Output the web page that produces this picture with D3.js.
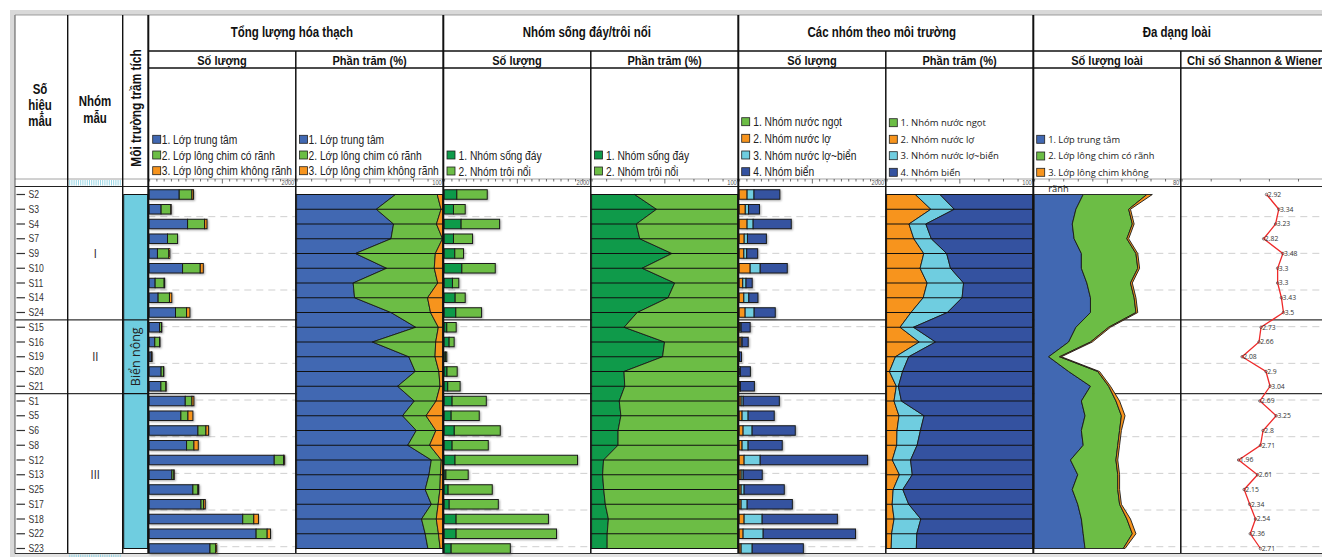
<!DOCTYPE html>
<html>
<head>
<meta charset="utf-8">
<script src="https://cdn.jsdelivr.net/npm/d3@7"></script>
<style>
  body { margin: 0; background: #fff; }
  svg { display: block; }
</style>
</head>
<body>
<svg id="chart" width="1322" height="557"></svg>
<script>
// ---- data ----
const samples = ["S2","S3","S4","S7","S9","S10","S11","S14","S24","S15","S16","S19","S20","S21",
                 "S1","S5","S6","S8","S12","S13","S25","S17","S18","S22","S23"];
const groupNames = ["I", "II", "III"];
const groupSizes = [9, 5, 11];
const environmentLabel = "Biển nông";

// Tổng lượng hóa thạch (số lượng)
const fossilCentral = [414,165,529,253,115,460,83,124,363,143,78,30,165,162,497,437,671,515,1720,313,602,713,1287,1471,837];
const fossilGrooved = [175,134,234,138,156,243,124,156,152,27,65,7,33,68,92,97,110,101,128,27,69,36,152,152,78];
const fossilSmooth  = [22,3,33,0,14,42,7,32,46,5,7,2,5,4,27,68,37,60,15,5,12,23,64,46,15];

// Nhóm sống đáy / trôi nổi (số lượng)
const benthic   = [175,129,234,129,147,244,115,152,161,37,69,18,40,50,110,97,140,110,150,25,55,70,165,165,97];
const planktic  = [418,161,529,262,120,459,87,138,354,129,69,19,140,170,470,386,632,497,1684,306,607,675,1269,1380,813];

// Các nhóm theo môi trường (số lượng)
const freshwater     = [0,0,0,0,0,0,0,0,0,0,0,0,0,0,0,0,0,0,0,0,0,0,0,0,0];
const brackish       = [110,85,110,70,65,152,50,65,83,14,28,2,3,14,28,41,55,41,69,28,28,28,69,55,28];
const brackishMarine = [95,45,83,45,40,138,45,69,124,14,14,3,14,3,28,83,124,83,221,28,41,83,248,276,152];
const marine         = [355,150,524,260,150,372,85,125,290,124,83,28,138,193,497,359,593,469,1476,262,552,621,1034,1269,703];

// Đa dạng loài: số lượng loài
const spCentral = [27,23,21,22,26,26,29,31,31,23,19,8,19,31,26,28,26,27,20,24,21,24,26,27,28];
const spGrooved = [35,29,33,29,30,31,24,24,25,18,12,6,16,10,19,20,21,19,25,22,25,23,25,27,21];
const spSmooth  = [3,1,1,1,1,1,1,1,1,1,1,1,1,1,2,2,1,1,1,1,1,1,2,2,1];

// Chỉ số Shannon & Wiener
const shannon = [2.92,3.34,3.23,2.82,3.48,3.3,3.3,3.43,3.5,2.73,2.66,2.08,2.9,3.04,
                 2.69,3.25,2.8,2.71,1.96,2.61,2.15,2.34,2.54,2.36,2.71];

// headings and legends
const groupTitles = ["Tổng lượng hóa thạch", "Nhóm sống đáy/trôi nổi", "Các nhóm theo môi trường", "Đa dạng loài"];
const panelTitles = ["Số lượng", "Phần trăm (%)", "Số lượng", "Phần trăm (%)", "Số lượng", "Phần trăm (%)", "Số lượng loài", "Chỉ số Shannon & Wiener"];
const fossilLegend = ["1. Lớp trung tâm", "2. Lớp lông chim có rãnh", "3. Lớp lông chim không rãnh"];
const habitatLegend = ["1. Nhóm sống đáy", "2. Nhóm trôi nổi"];
const envLegend = ["1. Nhóm nước ngọt", "2. Nhóm nước lợ", "3. Nhóm nước lợ~biển", "4. Nhóm biển"];
const speciesLegend = ["1. Lớp trung tâm", "2. Lớp lông chim có rãnh", "3. Lớp lông chim không"];
const speciesLegendWrap = "rãnh";
const axisEndLabels = ["2000", "100", "2000", "100", "2000", "100", "80", null];
const axisMax = [2000, 100, 2000, 100, 2000, 100, 80, 5];

// ---- colours ----
const C = {
  blue: "#4168b2", green: "#6cbd45", orange: "#f7941d",
  dkgreen: "#0f9a4a", cyan: "#6fcde0", marine: "#3452a0", red: "#ee2a2a"
};
const NARROW = "'Liberation Sans', Arial, sans-serif";
const SQUEEZE = 0.82;                // horizontal squeeze for the condensed lettering
const SANS = "'Open Sans', 'Noto Sans', sans-serif";

// ---- layout ----
const W = 1322;
const svg = d3.select("#chart");
const colEdges = [15, 67.7, 122.7, 148.3];
const panelW = 147.5;
const px = i => 148.3 + i * panelW;
const yTop = 15, yGroup = 51, ySub = 68, yAxisTop = 179, yAxisBot = 186.5, yBottom = 553.5;

const y = d3.scalePoint().domain(samples).range([194.5, 548.5]);
const rows = samples.map((s, i) => ({
  s, i,
  fc: fossilCentral[i], fg: fossilGrooved[i], fs: fossilSmooth[i],
  be: benthic[i], pl: planktic[i],
  fw: freshwater[i], br: brackish[i], bm: brackishMarine[i], ma: marine[i],
  sc: spCentral[i], sg: spGrooved[i], ss: spSmooth[i],
  h: shannon[i]
}));

const xs = d3.range(8).map(i =>
  d3.scaleLinear().domain([0, axisMax[i]]).range([px(i) + 0.8, px(i) + panelW - 1.2]));

// condensed text helper: text squeezed horizontally around its anchor
function ntext(parent, x, yy, str, size, opts = {}) {
  const rot = opts.rotate ? ` rotate(${opts.rotate})` : "";
  return parent.append("text")
    .attr("transform", `translate(${x},${yy})${rot} scale(${SQUEEZE},1)`)
    .attr("font-family", NARROW).attr("font-size", size)
    .attr("font-weight", opts.bold ? "bold" : null)
    .attr("text-anchor", opts.anchor || "start")
    .attr("fill", opts.fill || "#222").text(str);
}

const defs = svg.append("defs");
defs.append("filter").attr("id", "shadow").attr("x", "-10%").attr("y", "-40%")
  .attr("width", "130%").attr("height", "200%")
  .append("feDropShadow").attr("dx", 1).attr("dy", 1).attr("stdDeviation", 0.8)
  .attr("flood-color", "#000").attr("flood-opacity", 0.35);

// page frame bands
svg.append("rect").attr("x", 10).attr("y", 10).attr("width", W - 10).attr("height", 5).attr("fill", "#d9d9d9");
svg.append("rect").attr("x", 10).attr("y", 10).attr("width", 5).attr("height", 547).attr("fill", "#d9d9d9");
svg.append("rect").attr("x", 15).attr("y", yBottom).attr("width", W - 15).attr("height", 557 - yBottom).attr("fill", "#e3e3e3");

// dashed depth grid behind the data panels
const grid = d3.scaleLinear().domain([0, 10]).range([180, 546.7]);
svg.append("g").selectAll("line").data(d3.range(1, 11)).join("line")
  .attr("x1", px(0)).attr("x2", W)
  .attr("y1", d => grid(d)).attr("y2", d => grid(d))
  .attr("stroke", "#cfcfcf").attr("stroke-width", 1).attr("stroke-dasharray", "7,5");

// sample-group separators
const groupEnds = d3.cumsum(groupSizes);
const sepY = groupEnds.slice(0, -1).map(e => (y(samples[e - 1]) + y(samples[e])) / 2);
svg.append("g").selectAll("line").data(sepY).join("line")
  .attr("x1", 15).attr("x2", W).attr("y1", d => d).attr("y2", d => d)
  .attr("stroke", "#333").attr("stroke-width", 1.2);

// ---- stacked bars ----
function bars(panel, keys, colors) {
  const stack = d3.stack().keys(keys)(rows);
  const x = xs[panel];
  const g = svg.append("g").attr("filter", "url(#shadow)");
  stack.forEach((layer, k) => {
    g.selectAll(null).data(layer).join("rect")
      .attr("x", d => x(d[0])).attr("width", d => Math.max(0, x(d[1]) - x(d[0])))
      .attr("y", d => y(d.data.s) - 4.75).attr("height", 9.5)
      .attr("fill", colors[k])
      .attr("stroke", d => (d[1] - d[0] > 0 ? "#1a1a1a" : "none")).attr("stroke-width", 1);
  });
}
bars(0, ["fc", "fg", "fs"], [C.blue, C.green, C.orange]);
bars(2, ["be", "pl"], [C.dkgreen, C.green]);
bars(4, ["fw", "br", "bm", "ma"], [C.green, C.orange, C.cyan, C.marine]);

// ---- stacked areas ----
function areas(panel, keys, colors, normalise, rules) {
  const st = d3.stack().keys(keys);
  if (normalise) st.offset(d3.stackOffsetExpand);
  const stack = st(rows);
  const x = normalise ? d3.scaleLinear().domain([0, 1]).range([px(panel) + 0.8, px(panel) + panelW - 0.8]) : xs[panel];
  const area = d3.area().curve(d3.curveLinear)
    .y(d => y(d.data.s)).x0(d => x(d[0])).x1(d => x(d[1]));
  const g = svg.append("g");
  stack.forEach((layer, k) => {
    g.append("path").datum(layer).attr("d", area)
      .attr("fill", colors[k]).attr("stroke", "#1a1a1a").attr("stroke-width", 0.9)
      .attr("stroke-linejoin", "round");
  });
  if (rules) {
    g.selectAll("line.rule").data(samples).join("line")
      .attr("x1", px(panel)).attr("x2", px(panel) + panelW)
      .attr("y1", d => y(d)).attr("y2", d => y(d))
      .attr("stroke", "#111").attr("stroke-width", 1.1);
  }
}
areas(1, ["fc", "fg", "fs"], [C.blue, C.green, C.orange], true, true);
areas(3, ["be", "pl"], [C.dkgreen, C.green], true, true);
areas(5, ["fw", "br", "bm", "ma"], [C.green, C.orange, C.cyan, C.marine], true, true);
areas(6, ["sc", "sg", "ss"], [C.blue, C.green, C.orange], false, false);

// ---- Shannon & Wiener line ----
const xh = xs[7];
const sg = svg.append("g");
sg.append("path").datum(rows)
  .attr("d", d3.line().x(d => xh(d.h)).y(d => y(d.s)))
  .attr("fill", "none").attr("stroke", C.red).attr("stroke-width", 1.3);
sg.selectAll("circle").data(rows).join("circle")
  .attr("cx", d => xh(d.h)).attr("cy", d => y(d.s)).attr("r", 1.3)
  .attr("fill", "none").attr("stroke", "#333").attr("stroke-width", 0.6);
sg.selectAll("text").data(rows).join("text")
  .attr("x", d => xh(d.h) + 1.2).attr("y", d => y(d.s) + 2.3)
  .attr("font-family", SANS).attr("font-size", 6.8).attr("fill", "#333")
  .text(d => d.h);

// ---- axes (top band) ----
svg.append("line").attr("x1", 15).attr("x2", W).attr("y1", yAxisTop).attr("y2", yAxisTop)
  .attr("stroke", "#8a8a8a").attr("stroke-width", 0.8);
const tickSets = [
  { vals: d3.range(0, 2001, 100), major: 1000 },
  { vals: d3.range(0, 101, 10), major: 50 },
  { vals: d3.range(0, 2001, 100), major: 1000 },
  { vals: d3.range(0, 101, 10), major: 50 },
  { vals: d3.range(0, 2001, 100), major: 1000 },
  { vals: d3.range(0, 101, 10), major: 50 },
  { vals: d3.range(0, 81, 8), major: 40 },
  { vals: d3.range(0, 5, 1), major: -1 }
];
tickSets.forEach((t, i) => {
  const g = svg.append("g").attr("transform", `translate(0,${yAxisTop})`)
    .call(d3.axisBottom(xs[i]).tickValues(t.vals).tickSize(2.5).tickFormat(""));
  g.select(".domain").remove();
  g.selectAll(".tick line").attr("stroke", "#333").attr("stroke-width", 0.7)
    .attr("y2", d => (d === t.major ? 4.5 : 2.5));
  if (axisEndLabels[i]) {
    ntext(svg, px(i) + panelW - 1.5, yAxisBot - 1.2, axisEndLabels[i], 7, { anchor: "end", fill: "#555" });
  }
});
svg.append("line").attr("x1", 15).attr("x2", W).attr("y1", yAxisBot).attr("y2", yAxisBot)
  .attr("stroke", "#222").attr("stroke-width", 1);

// hatch in sample-group column of the axis bands
[[yAxisTop + 1, yAxisBot - 1], [yBottom + 1, 557]].forEach(([a, b]) => {
  svg.append("g").selectAll("line").data(d3.range(colEdges[1] + 2, colEdges[2] - 1, 2.2)).join("line")
    .attr("x1", d => d).attr("x2", d => d).attr("y1", a).attr("y2", b)
    .attr("stroke", "#8fd3e3").attr("stroke-width", 0.9);
});

// ---- left columns ----
// sample labels
const lg = svg.append("g");
lg.selectAll("line").data(samples).join("line")
  .attr("x1", 16.5).attr("x2", 25).attr("y1", d => y(d)).attr("y2", d => y(d))
  .attr("stroke", "#333").attr("stroke-width", 1.2);
lg.selectAll("text").data(samples).join("text")
  .attr("transform", d => `translate(28.5,${y(d) + 3.6}) scale(${SQUEEZE},1)`)
  .attr("font-family", NARROW).attr("font-size", 10.5).attr("fill", "#333").text(d => d);

// group labels
const groupStarts = [0, ...groupEnds.slice(0, -1)];
groupNames.forEach((g, i) =>
  ntext(svg, (colEdges[1] + colEdges[2]) / 2,
    (y(samples[groupStarts[i]]) + y(samples[groupEnds[i] - 1])) / 2 + 4.5, g, 13.5,
    { anchor: "middle", fill: "#333" }));

// environment column
const envX = colEdges[2] + 1, envW = colEdges[3] - colEdges[2] - 1.5;
svg.append("rect").attr("x", envX).attr("y", y(samples[0])).attr("width", envW)
  .attr("height", y(samples[samples.length - 1]) - y(samples[0]))
  .attr("fill", C.cyan).attr("stroke", "#111").attr("stroke-width", 1);
svg.append("g").selectAll("line").data(sepY).join("line")
  .attr("x1", envX).attr("x2", envX + envW).attr("y1", d => d).attr("y2", d => d)
  .attr("stroke", "#111").attr("stroke-width", 1.2);
const envMidY = (y(samples[groupStarts[1]]) + y(samples[groupEnds[1] - 1])) / 2;
svg.append("text").attr("transform", `translate(${envX + envW / 2 + 4.5},${envMidY}) rotate(-90)`)
  .attr("text-anchor", "middle").attr("font-family", SANS).attr("font-size", 12.5)
  .attr("fill", "#222").text(environmentLabel);

// ---- header texts ----
const hdr = svg.append("g");
["Số", "hiệu", "mẫu"].forEach((t, i) =>
  ntext(hdr, 40, 93.5 + i * 16.3, t, 14, { anchor: "middle", bold: true, fill: "#111" }));
["Nhóm", "mẫu"].forEach((t, i) =>
  ntext(hdr, 95, 106 + i * 16.5, t, 14, { anchor: "middle", bold: true, fill: "#111" }));
ntext(hdr, (colEdges[2] + colEdges[3]) / 2 + 5, 108, "Môi trường trầm tích", 14.5,
  { anchor: "middle", bold: true, fill: "#111", rotate: -90 });
groupTitles.forEach((t, i) =>
  ntext(hdr, px(2 * i) + panelW - 4, 36.5, t, 14, { anchor: "middle", bold: true, fill: "#111" }));
panelTitles.forEach((t, i) =>
  ntext(hdr, px(i) + panelW / 2, 64.5, t, 13.5, { anchor: "middle", bold: true, fill: "#111" }));

// ---- legends ----
function legend(labels, colors, sqX, ys, narrow, size, gap) {
  const g = svg.append("g");
  labels.forEach((t, k) => {
    g.append("rect").attr("x", sqX).attr("y", ys[k] - 4).attr("width", 8).attr("height", 8)
      .attr("fill", colors[k]).attr("stroke", "#222").attr("stroke-width", 0.8);
    if (narrow) {
      ntext(g, sqX + 8 + gap, ys[k] + size * 0.36, t, size);
    } else {
      g.append("text").attr("x", sqX + 8 + gap).attr("y", ys[k] + size * 0.36)
        .attr("font-family", SANS).attr("font-size", size).attr("fill", "#222").text(t);
    }
  });
  return g;
}
const fossilColors = [C.blue, C.green, C.orange];
legend(fossilLegend, fossilColors, 152.7, [139.3, 155, 170.7], true, 12.5, 1);
legend(fossilLegend, fossilColors, 299.5, [139.3, 155, 170.7], true, 12.5, 1);
legend(habitatLegend, [C.dkgreen, C.green], 447, [155, 171], true, 12.5, 3.5);
legend(habitatLegend, [C.dkgreen, C.green], 594.5, [155, 171], true, 12.5, 3.5);
legend(envLegend, [C.green, C.orange, C.cyan, C.marine], 741.7, [121.7, 138.3, 155, 171.7], true, 12.5, 3.5);
legend(envLegend, [C.green, C.orange, C.cyan, C.marine], 889.3, [122.7, 139.3, 155.7, 172.3], false, 9.5, 3.3);
legend(speciesLegend, fossilColors, 1036.7, [139.3, 156, 172.3], false, 9.3, 3.5);
svg.append("text").attr("x", 1048.3).attr("y", 192).attr("font-family", SANS).attr("font-size", 9.3)
  .attr("fill", "#222").text(speciesLegendWrap);

// ---- grid lines of the table ----
const frame = svg.append("g").attr("stroke", "#111");
frame.append("line").attr("x1", 15).attr("x2", 15).attr("y1", yTop).attr("y2", yBottom).attr("stroke", "#555").attr("stroke-width", 1);
frame.append("line").attr("x1", 15).attr("x2", W).attr("y1", yTop).attr("y2", yTop).attr("stroke", "#888").attr("stroke-width", 0.8);
[colEdges[1], colEdges[2]].forEach(x =>
  frame.append("line").attr("x1", x).attr("x2", x).attr("y1", yTop).attr("y2", yBottom).attr("stroke-width", 1.4));
[0, 2, 4, 6].forEach(i =>
  frame.append("line").attr("x1", px(i)).attr("x2", px(i)).attr("y1", yTop).attr("y2", yBottom).attr("stroke-width", 2));
[1, 3, 5, 7].forEach(i =>
  frame.append("line").attr("x1", px(i)).attr("x2", px(i)).attr("y1", yGroup).attr("y2", yBottom).attr("stroke-width", 1.5));
[yGroup, ySub].forEach(v =>
  frame.append("line").attr("x1", px(0)).attr("x2", W).attr("y1", v).attr("y2", v).attr("stroke-width", 1.4));
frame.append("line").attr("x1", 15).attr("x2", W).attr("y1", yBottom).attr("y2", yBottom).attr("stroke", "#333").attr("stroke-width", 1);
</script>
</body>
</html>
